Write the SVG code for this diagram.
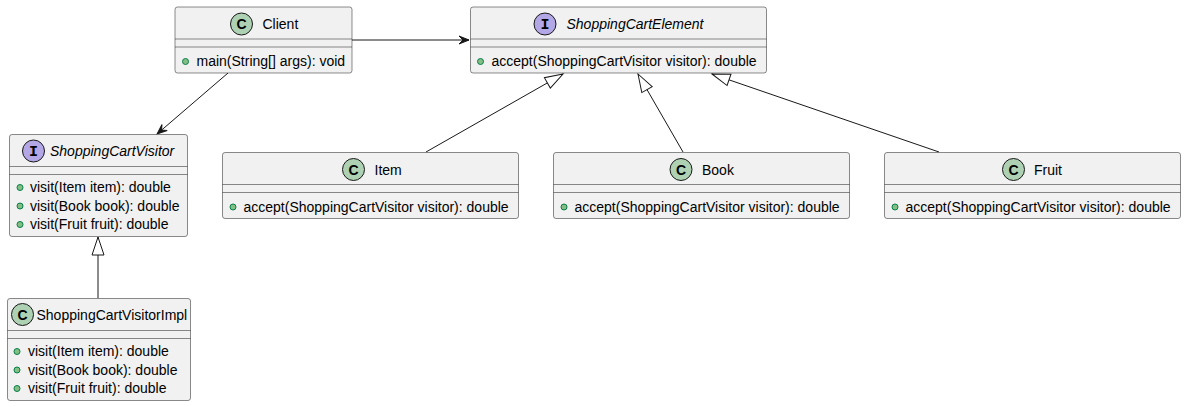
<svg xmlns="http://www.w3.org/2000/svg" width="1186" height="407" viewBox="0 0 1186 407">
<style>
.box{fill:#F1F1F1;stroke:#181818;stroke-width:0.5}
.sep{stroke:#181818;stroke-width:0.5}
.name{font-family:"Liberation Sans",Arial,sans-serif;font-size:14px;fill:#000}
.iname{font-family:"Liberation Sans",Arial,sans-serif;font-size:14px;font-style:italic;fill:#000}
.mem{font-family:"Liberation Sans",Arial,sans-serif;font-size:14px;fill:#000}
.cicon{fill:#ADD1B2;stroke:#181818;stroke-width:1}
.iicon{fill:#B4A7E5;stroke:#181818;stroke-width:1}
.ctext{font-family:"Liberation Sans",Arial,sans-serif;font-size:14px;font-weight:bold;fill:#000}
.itext{font-family:"Liberation Mono","Courier New",monospace;font-size:15px;font-weight:bold;fill:#000}
.dot{fill:#84BE84;stroke:#038048;stroke-width:1}
.link{stroke:#181818;stroke-width:1;fill:none}
</style>
<defs>
<marker id="arrow" markerUnits="userSpaceOnUse" markerWidth="14" markerHeight="12" viewBox="-11 -6 12 12" refX="0" refY="0" orient="auto">
<path d="M0,0 L-10,-4 L-6,0 L-10,4 Z" fill="#181818" stroke="#181818" stroke-width="1"/>
</marker>
<marker id="tri" markerUnits="userSpaceOnUse" markerWidth="22" markerHeight="16" viewBox="-20 -8 22 16" refX="0" refY="0" orient="auto">
<path d="M0,0 L-18,-6 L-18,6 Z" fill="#FFFFFF" stroke="#181818" stroke-width="1"/>
</marker>
</defs>

<g id="connectors">
<path class="link" d="M352,40 L469,40" marker-end="url(#arrow)"/>
<path class="link" d="M228,73 L157,134" marker-end="url(#arrow)"/>
<path class="link" d="M426,152 L563,74" marker-end="url(#tri)"/>
<path class="link" d="M683,152 L638,74" marker-end="url(#tri)"/>
<path class="link" d="M939,152 L712,74" marker-end="url(#tri)"/>
<path class="link" d="M98,298 L98,237" marker-end="url(#tri)"/>
</g>

<g id="Client">
<rect class="box" x="175" y="7" width="177" height="66" rx="2.5"/>
<line class="sep" x1="175" y1="39" x2="352" y2="39"/>
<line class="sep" x1="175" y1="47" x2="352" y2="47"/>
<circle class="cicon" cx="241.5" cy="24" r="11"/>
<text class="ctext" x="241.5" y="29" text-anchor="middle">C</text>
<text class="name" x="262.5" y="29">Client</text>
<circle class="dot" cx="185.5" cy="61.5" r="3"/>
<text class="mem" x="196.5" y="66">main(String[] args): void</text>
</g>

<g id="ShoppingCartElement">
<rect class="box" x="470.5" y="7" width="296" height="66" rx="2.5"/>
<line class="sep" x1="470.5" y1="39" x2="766.5" y2="39"/>
<line class="sep" x1="470.5" y1="47" x2="766.5" y2="47"/>
<circle class="iicon" cx="545" cy="24" r="11"/>
<text class="itext" x="545" y="29" text-anchor="middle">I</text>
<text class="iname" x="566.5" y="29">ShoppingCartElement</text>
<circle class="dot" cx="480.5" cy="61.5" r="3"/>
<text class="mem" x="491.5" y="66">accept(ShoppingCartVisitor visitor): double</text>
</g>

<g id="ShoppingCartVisitor">
<rect class="box" x="9.5" y="134.5" width="178" height="102" rx="2.5"/>
<line class="sep" x1="9.5" y1="166.5" x2="187.5" y2="166.5"/>
<line class="sep" x1="9.5" y1="174.5" x2="187.5" y2="174.5"/>
<circle class="iicon" cx="33.5" cy="151" r="11"/>
<text class="itext" x="33.5" y="156" text-anchor="middle">I</text>
<text class="iname" x="50" y="156">ShoppingCartVisitor</text>
<circle class="dot" cx="20" cy="187.5" r="3"/>
<text class="mem" x="30" y="192">visit(Item item): double</text>
<circle class="dot" cx="20" cy="206" r="3"/>
<text class="mem" x="30" y="210.5">visit(Book book): double</text>
<circle class="dot" cx="20" cy="224.5" r="3"/>
<text class="mem" x="30" y="229">visit(Fruit fruit): double</text>
</g>

<g id="ShoppingCartVisitorImpl">
<rect class="box" x="7.5" y="298.5" width="183" height="102" rx="2.5"/>
<line class="sep" x1="7.5" y1="330.5" x2="190.5" y2="330.5"/>
<line class="sep" x1="7.5" y1="338.5" x2="190.5" y2="338.5"/>
<circle class="cicon" cx="22.5" cy="314.5" r="11"/>
<text class="ctext" x="22.5" y="319.5" text-anchor="middle">C</text>
<text class="name" x="36.5" y="319.5">ShoppingCartVisitorImpl</text>
<circle class="dot" cx="17" cy="351.5" r="3"/>
<text class="mem" x="28" y="356">visit(Item item): double</text>
<circle class="dot" cx="17" cy="370" r="3"/>
<text class="mem" x="28" y="374.5">visit(Book book): double</text>
<circle class="dot" cx="17" cy="388.5" r="3"/>
<text class="mem" x="28" y="393">visit(Fruit fruit): double</text>
</g>

<g id="Item">
<rect class="box" x="222.5" y="152.5" width="296" height="66" rx="2.5"/>
<line class="sep" x1="222.5" y1="184.5" x2="518.5" y2="184.5"/>
<line class="sep" x1="222.5" y1="192.5" x2="518.5" y2="192.5"/>
<circle class="cicon" cx="353.5" cy="169.5" r="11"/>
<text class="ctext" x="353.5" y="174.5" text-anchor="middle">C</text>
<text class="name" x="374.5" y="174.5">Item</text>
<circle class="dot" cx="233" cy="207" r="3"/>
<text class="mem" x="243.5" y="211.5">accept(ShoppingCartVisitor visitor): double</text>
</g>

<g id="Book">
<rect class="box" x="553.5" y="152.5" width="296" height="66" rx="2.5"/>
<line class="sep" x1="553.5" y1="184.5" x2="849.5" y2="184.5"/>
<line class="sep" x1="553.5" y1="192.5" x2="849.5" y2="192.5"/>
<circle class="cicon" cx="681" cy="169.5" r="11"/>
<text class="ctext" x="681" y="174.5" text-anchor="middle">C</text>
<text class="name" x="702" y="174.5">Book</text>
<circle class="dot" cx="564" cy="207" r="3"/>
<text class="mem" x="574.5" y="211.5">accept(ShoppingCartVisitor visitor): double</text>
</g>

<g id="Fruit">
<rect class="box" x="884.5" y="152.5" width="296" height="66" rx="2.5"/>
<line class="sep" x1="884.5" y1="184.5" x2="1180.5" y2="184.5"/>
<line class="sep" x1="884.5" y1="192.5" x2="1180.5" y2="192.5"/>
<circle class="cicon" cx="1013.5" cy="169.5" r="11"/>
<text class="ctext" x="1013.5" y="174.5" text-anchor="middle">C</text>
<text class="name" x="1034" y="174.5">Fruit</text>
<circle class="dot" cx="895" cy="207" r="3"/>
<text class="mem" x="905.5" y="211.5">accept(ShoppingCartVisitor visitor): double</text>
</g>
</svg>
